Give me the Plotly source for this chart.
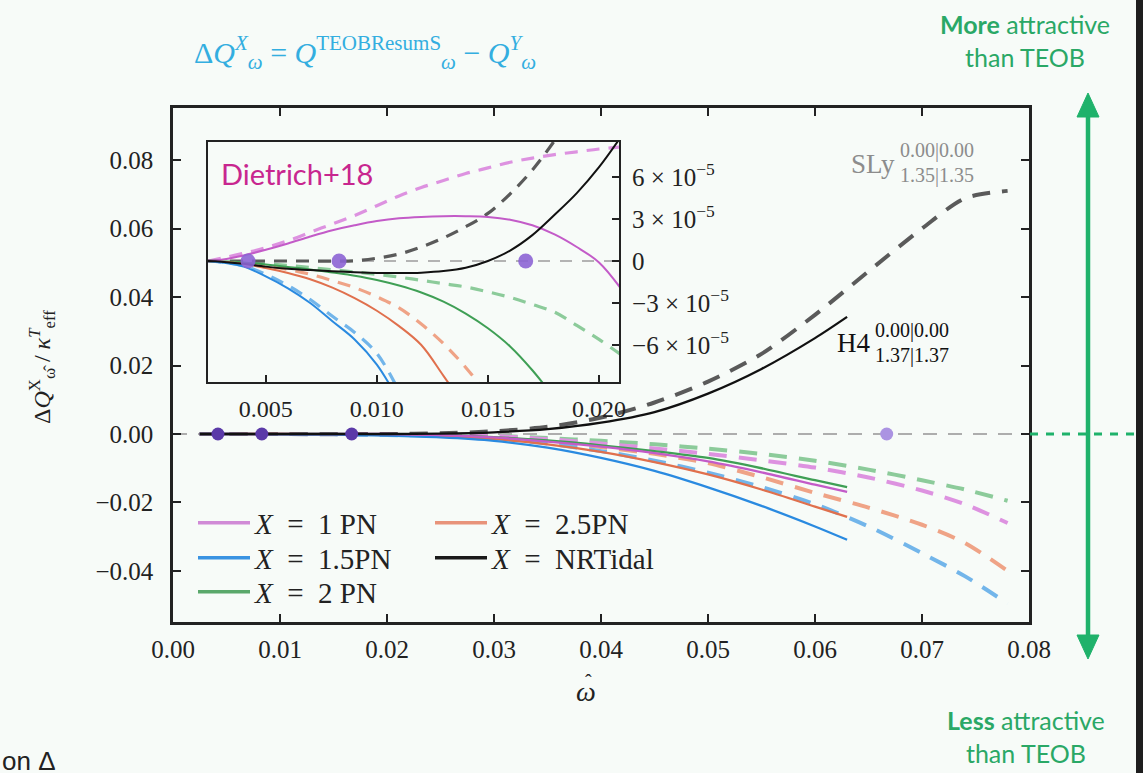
import plotly.graph_objects as go

W, H = 1143, 773
BG = "#f7fbf8"

def px(x):
    return x / W

def py(y):
    return 1 - y / H

# ---------------- main panel data ----------------
omega_solid = [0.0025, 0.005, 0.01, 0.015, 0.02, 0.025, 0.03, 0.035, 0.04, 0.045, 0.05, 0.055, 0.06, 0.063]
omega_dashed = [0.0025, 0.005, 0.01, 0.015, 0.02, 0.025, 0.03, 0.035, 0.04, 0.045, 0.05, 0.055, 0.06, 0.065, 0.07, 0.074, 0.078]

# solid = H4 (1.37|1.37)
pn1_solid = [0, 0, 0, 0, 0, -0.0003, -0.0010, -0.0022, -0.0037, -0.0056, -0.0080, -0.0112, -0.0148, -0.0169]
pn15_solid = [0, 0, -0.0001, -0.0002, -0.0005, -0.0010, -0.0020, -0.0040, -0.0070, -0.0108, -0.0156, -0.0210, -0.0270, -0.0309]
pn2_solid = [0, 0, 0, 0, -0.0001, -0.0003, -0.0009, -0.0019, -0.0033, -0.0050, -0.0070, -0.0100, -0.0135, -0.0155]
pn25_solid = [0, 0, 0, -0.0001, -0.0003, -0.0007, -0.0015, -0.0030, -0.0052, -0.0082, -0.0118, -0.0162, -0.0212, -0.0242]
nrt_solid = [0, 0, 0, 0, 0, 0.0001, 0.0005, 0.0014, 0.0033, 0.0064, 0.0118, 0.0190, 0.0280, 0.0342]

# dashed = SLy (1.35|1.35)
pn1_dashed = [0, 0, 0, 0, 0, -0.0002, -0.0006, -0.0015, -0.0028, -0.0042, -0.0058, -0.0077, -0.0098, -0.0127, -0.0165, -0.0205, -0.0260]
pn15_dashed = [0, 0, 0, -0.0001, -0.0003, -0.0005, -0.0012, -0.0028, -0.0050, -0.0078, -0.0113, -0.0155, -0.0205, -0.0270, -0.0348, -0.0415, -0.0495]
pn2_dashed = [0, 0, 0, 0, 0, -0.0001, -0.0005, -0.0012, -0.0020, -0.0030, -0.0043, -0.0058, -0.0078, -0.0104, -0.0135, -0.0162, -0.0195]
pn25_dashed = [0, 0, 0, -0.0001, -0.0002, -0.0004, -0.0010, -0.0022, -0.0038, -0.0058, -0.0085, -0.0126, -0.0172, -0.0215, -0.0265, -0.0318, -0.0400]
nrt_dashed = [0, 0, 0, 0, 0, 0.0002, 0.0008, 0.0021, 0.0048, 0.0092, 0.0153, 0.0234, 0.0348, 0.0475, 0.0600, 0.0688, 0.0710]

marker_omega = [0.0042, 0.0083, 0.0167, 0.0667]
marker_value = [0, 0, 0, 0]

# ---------------- inset data (units of 1e-5) ----------------
omega_inset = [0.0024, 0.003, 0.004, 0.005, 0.006, 0.007, 0.008, 0.009, 0.010, 0.011,
               0.012, 0.013, 0.014, 0.015, 0.016, 0.017, 0.018, 0.019, 0.020, 0.021]
in_pn1_solid = [0, 0.1, 0.4, 0.8, 1.25, 1.75, 2.2, 2.55, 2.85, 3.05, 3.15, 3.2, 3.2, 3.15, 2.95, 2.55, 1.9, 1.0, -0.1, -2.0]
in_pn1_dashed = [0, 0.2, 0.55, 0.95, 1.45, 2.05, 2.65, 3.25, 3.95, 4.65, 5.25, 5.75, 6.25, 6.65, 7.05, 7.35, 7.6, 7.8, 8.0, 8.15]
in_nrt_solid = [0, -0.05, -0.2, -0.4, -0.55, -0.65, -0.73, -0.8, -0.85, -0.86, -0.83, -0.72, -0.48, 0.0, 0.75, 1.85, 3.3, 4.85, 6.7, 8.9]
in_nrt_dashed = [0, 0, 0, 0, 0, 0, 0, 0.02, 0.2, 0.5, 1.0, 1.65, 2.45, 3.4, 4.8, 6.5, 8.6, 11.0, 13.5, 16.0]
in_pn2_solid = [0, -0.02, -0.1, -0.25, -0.42, -0.6, -0.82, -1.05, -1.35, -1.75, -2.25, -2.9, -3.75, -4.8, -6.1, -7.8, -9.8]
in_pn2_dashed = [0, -0.02, -0.1, -0.2, -0.32, -0.47, -0.62, -0.78, -0.95, -1.15, -1.38, -1.62, -1.85, -2.2, -2.6, -3.1, -3.65, -4.6, -5.6, -6.7]
in_pn25_solid = [0, -0.05, -0.2, -0.5, -0.85, -1.3, -1.9, -2.65, -3.55, -4.65, -6.0, -8.2, -10.5]
in_pn25_dashed = [0, -0.03, -0.15, -0.35, -0.6, -0.95, -1.4, -1.9, -2.55, -3.35, -4.5, -5.9, -7.6, -9.6]
in_pn15_solid = [0, -0.1, -0.4, -1.1, -1.95, -3.0, -4.3, -5.6, -7.4, -10.0]
in_pn15_dashed = [0, -0.08, -0.35, -0.95, -1.75, -2.75, -3.95, -5.1, -6.6, -9.3]
inset_markers = [0.0042, 0.0083, 0.0167]
inset_ticks_e5 = [-6, -3, 0, 3, 6]
inset_ticktext = ["\u22126 \u00d7 10<sup>\u22125</sup>", "\u22123 \u00d7 10<sup>\u22125</sup>", "0",
                  "3 \u00d7 10<sup>\u22125</sup>", "6 \u00d7 10<sup>\u22125</sup>"]
inset_xticks = [0.005, 0.010, 0.015, 0.020]
inset_xticktext = ["0.005", "0.010", "0.015", "0.020"]

EQ = "\u2002=\u2002"
labels = {"pn1": f"<i>X</i>{EQ}1 PN", "pn15": f"<i>X</i>{EQ}1.5PN", "pn2": f"<i>X</i>{EQ}2 PN",
          "pn25": f"<i>X</i>{EQ}2.5PN", "nrt": f"<i>X</i>{EQ}NRTidal"}
solid_col = {"pn1": "#c35bc8", "pn15": "#2a8ae0", "pn2": "#3f9f55", "pn25": "#e0704d", "nrt": "#111111"}
dash_col = {"pn1": "#dd92e0", "pn15": "#72b5ea", "pn2": "#8ccb9a", "pn25": "#efa386", "nrt": "#5a5a5a"}
legend_swatch = {"pn1": "#d08ad6", "pn15": "#3a93e2", "pn2": "#5aa86b", "pn25": "#e8937a", "nrt": "#1a1a1a"}

main_solid = {"pn1": pn1_solid, "pn15": pn15_solid, "pn2": pn2_solid, "pn25": pn25_solid, "nrt": nrt_solid}
main_dashed = {"pn1": pn1_dashed, "pn15": pn15_dashed, "pn2": pn2_dashed, "pn25": pn25_dashed, "nrt": nrt_dashed}
ins_solid = {"pn1": in_pn1_solid, "pn15": in_pn15_solid, "pn2": in_pn2_solid, "pn25": in_pn25_solid, "nrt": in_nrt_solid}
ins_dashed = {"pn1": in_pn1_dashed, "pn15": in_pn15_dashed, "pn2": in_pn2_dashed, "pn25": in_pn25_dashed, "nrt": in_nrt_dashed}
# one legend box per entry -> two columns like the reference
legend_of = {"pn1": "legend", "pn15": "legend2", "pn2": "legend3", "pn25": "legend4", "nrt": "legend5"}
legend_pos = {"legend": (193, 523), "legend2": (193, 558), "legend3": (193, 592),
              "legend4": (430, 523), "legend5": (430, 558)}
order = ["pn2", "pn25", "pn15", "pn1", "nrt"]

fig = go.Figure()

# zero reference lines (main + inset)
fig.add_trace(go.Scatter(x=[0, 0.08], y=[0, 0], mode="lines", xaxis="x", yaxis="y",
                         line=dict(color="#adadad", width=2, dash="14px,11px"),
                         showlegend=False, hoverinfo="skip"))
fig.add_trace(go.Scatter(x=[omega_inset[0], omega_inset[-1]], y=[0, 0], mode="lines", xaxis="x2", yaxis="y2",
                         line=dict(color="#b3b3b3", width=1.8, dash="12px,10px"),
                         showlegend=False, hoverinfo="skip"))

for k in order:
    fig.add_trace(go.Scatter(x=omega_dashed, y=main_dashed[k], mode="lines", xaxis="x", yaxis="y",
                             line=dict(color=dash_col[k], width=4, dash="18px,12px", shape="spline", smoothing=0.8),
                             showlegend=False, hoverinfo="skip"))
for k in order:
    fig.add_trace(go.Scatter(x=omega_solid, y=main_solid[k], mode="lines", xaxis="x", yaxis="y",
                             line=dict(color=solid_col[k], width=2.3, shape="spline", smoothing=0.8),
                             showlegend=False, hoverinfo="skip"))

for k in order:
    xs = omega_inset[:len(ins_dashed[k])]
    fig.add_trace(go.Scatter(x=xs, y=[v * 1e-5 for v in ins_dashed[k]], mode="lines", xaxis="x2", yaxis="y2",
                             line=dict(color=dash_col[k], width=3.2, dash="13px,9px", shape="spline", smoothing=1.0),
                             showlegend=False, hoverinfo="skip"))
for k in order:
    xs = omega_inset[:len(ins_solid[k])]
    fig.add_trace(go.Scatter(x=xs, y=[v * 1e-5 for v in ins_solid[k]], mode="lines", xaxis="x2", yaxis="y2",
                             line=dict(color=solid_col[k], width=2, shape="spline", smoothing=1.0),
                             showlegend=False, hoverinfo="skip"))

# markers
fig.add_trace(go.Scatter(x=marker_omega, y=marker_value, mode="markers", xaxis="x", yaxis="y",
                         marker=dict(size=13, color=["#5b3aa8", "#5b3aa8", "#5b3aa8", "#ab93e2"],
                                     line=dict(width=0)),
                         showlegend=False, hoverinfo="skip"))
fig.add_trace(go.Scatter(x=inset_markers, y=[0] * len(inset_markers), mode="markers", xaxis="x2", yaxis="y2",
                         marker=dict(size=15, color="#8c64d4", opacity=0.9, line=dict(width=0)),
                         showlegend=False, hoverinfo="skip"))

# legend entries
for k in ["pn1", "pn15", "pn2", "pn25", "nrt"]:
    fig.add_trace(go.Scatter(x=[None], y=[None], mode="lines", xaxis="x", yaxis="y",
                             line=dict(color=legend_swatch[k], width=3.5),
                             name=labels[k], legend=legend_of[k], showlegend=True))

serif = "Liberation Serif"
tick_font = dict(family=serif, size=25, color="#222")

axis_common = dict(showgrid=False, zeroline=False, showline=True, linecolor="#222", linewidth=2.5,
                   ticks="inside", ticklen=8, tickwidth=1.5, tickcolor="#222", mirror="ticks",
                   tickfont=tick_font, automargin=False)

legend_layout = {}
for name, (lx, ly) in legend_pos.items():
    legend_layout[name] = dict(x=px(lx), y=py(ly), xanchor="left", yanchor="middle", bgcolor="rgba(0,0,0,0)",
                               font=dict(family=serif, size=29, color="#222"), itemwidth=52)

fig.update_layout(
    width=W, height=H, margin=dict(l=0, r=0, t=0, b=0, autoexpand=False),
    paper_bgcolor=BG, plot_bgcolor=BG,
    xaxis=dict(domain=[px(173), px(1029)], range=[0, 0.08], tickvals=[0, 0.01, 0.02, 0.03, 0.04, 0.05, 0.06, 0.07, 0.08],
               tickformat=".2f", anchor="y", ticklabelstandoff=3, **axis_common),
    yaxis=dict(domain=[py(622), py(108)], range=[-0.0549, 0.0952], tickvals=[-0.04, -0.02, 0, 0.02, 0.04, 0.06, 0.08],
               tickformat=".2f", anchor="x", ticklabelstandoff=12, **axis_common),
    xaxis2=dict(domain=[px(208), px(619)], range=[0.0024, 0.0209], tickvals=inset_xticks, ticktext=inset_xticktext,
                anchor="y2", showgrid=False, zeroline=False, showline=True, linecolor="#222", linewidth=2.2,
                ticks="inside", ticklen=7, tickwidth=1.5, tickcolor="#222", mirror=True, automargin=False,
                tickfont=dict(family=serif, size=24, color="#222"), ticklabelstandoff=4),
    yaxis2=dict(domain=[py(382), py(142)], range=[-8.64e-5, 8.5e-5], tickvals=[v * 1e-5 for v in inset_ticks_e5],
                ticktext=inset_ticktext, anchor="x2", side="right", showgrid=False, zeroline=False, showline=True,
                linecolor="#222", linewidth=2.2, ticks="inside", ticklen=7, tickwidth=1.5, tickcolor="#222",
                mirror=True, automargin=False, tickfont=dict(family=serif, size=25, color="#222"), ticklabelstandoff=6),
    showlegend=True,
    **legend_layout,
)

GREEN = "#1fb26b"
TXTGREEN = "#2aa866"
C = dict(xref="paper", yref="paper", showarrow=False, xanchor="center", yanchor="middle")
ann = []
# title formula
ann.append(dict(C, x=px(365), y=py(52),
                text="\u0394<i>Q</i><sup><i>X</i></sup><sub><i>\u03c9</i></sub> = <i>Q</i><sup>TEOBResumS</sup><sub><i>\u03c9</i></sub> \u2212 <i>Q</i><sup><i>Y</i></sup><sub><i>\u03c9</i></sub>",
                font=dict(family=serif, size=30, color="#33aee0")))
# axis labels
ann.append(dict(C, x=px(42), y=py(367), textangle=-90,
                text="\u0394<i>Q</i><sup>X</sup><sub>\u03c9\u0302</sub> / <i>\u03ba</i><sup><i>T</i></sup><sub>eff</sub>",
                font=dict(family=serif, size=24, color="#222")))
ann.append(dict(C, x=px(586), y=py(691),
                text="<i>\u03c9</i>", font=dict(family=serif, size=28, color="#222")))
ann.append(dict(C, x=px(588), y=py(682),
                text="\u02c6", font=dict(family=serif, size=20, color="#222")))
# inset label
ann.append(dict(C, x=px(219), y=py(173), xanchor="left",
                text="Dietrich+18", font=dict(family="Lato", size=29, color="#c8268f")))
# EOS labels
ann.append(dict(C, x=px(897), y=py(164), xanchor="right",
                text="SLy", font=dict(family=serif, size=27, color="#8c8c8c")))
ann.append(dict(C, x=px(898), y=py(151), xanchor="left",
                text="0.00|0.00", font=dict(family=serif, size=20, color="#8c8c8c")))
ann.append(dict(C, x=px(898), y=py(175), xanchor="left",
                text="1.35|1.35", font=dict(family=serif, size=20, color="#8c8c8c")))
ann.append(dict(C, x=px(872), y=py(343), xanchor="right",
                text="H4", font=dict(family=serif, size=27, color="#111")))
ann.append(dict(C, x=px(873), y=py(331), xanchor="left",
                text="0.00|0.00", font=dict(family=serif, size=20, color="#111")))
ann.append(dict(C, x=px(873), y=py(355), xanchor="left",
                text="1.37|1.37", font=dict(family=serif, size=20, color="#111")))
# right-hand notes
ann.append(dict(C, x=px(1025), y=py(40), align="center",
                text="<b>More</b> attractive<br>than TEOB", font=dict(family="Lato", size=25, color=TXTGREEN)))
ann.append(dict(C, x=px(1026), y=py(736), align="center",
                text="<b>Less</b> attractive<br>than TEOB", font=dict(family="Lato", size=25, color=TXTGREEN)))
ann.append(dict(C, x=px(0), y=py(761), xanchor="left",
                text="on \u0394", font=dict(family="Liberation Sans", size=26, color="#222")))
fig.update_layout(annotations=ann)

shapes = []
# green dashed continuation of zero line
shapes.append(dict(type="line", xref="paper", yref="y", x0=px(1030), x1=px(1137), y0=0, y1=0,
                   line=dict(color=GREEN, width=3, dash="8px,8px")))
# double-headed arrow
shapes.append(dict(type="line", xref="paper", yref="paper", x0=px(1088), x1=px(1088), y0=py(110), y1=py(642),
                   line=dict(color=GREEN, width=4.5)))
shapes.append(dict(type="path", xref="paper", yref="paper",
                   path=f"M {px(1088)},{py(93)} L {px(1077)},{py(117)} L {px(1099)},{py(117)} Z",
                   fillcolor=GREEN, line=dict(color=GREEN, width=1)))
shapes.append(dict(type="path", xref="paper", yref="paper",
                   path=f"M {px(1088)},{py(659)} L {px(1077)},{py(635)} L {px(1099)},{py(635)} Z",
                   fillcolor=GREEN, line=dict(color=GREEN, width=1)))
# dark edge at right
shapes.append(dict(type="rect", xref="paper", yref="paper", x0=px(1136), x1=1, y0=0, y1=1,
                   fillcolor="#1e1e1e", line=dict(width=0)))
fig.update_layout(shapes=shapes)

fig.write_html("out.html")
